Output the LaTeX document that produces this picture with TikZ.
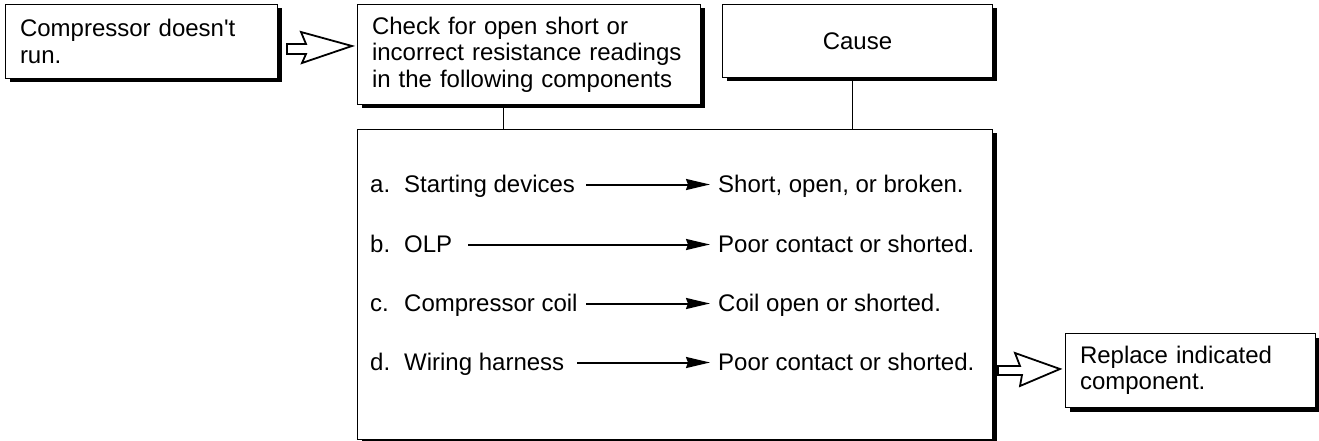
\documentclass[tikz,border=0pt]{standalone}
\usepackage{fontspec}
\setmainfont{Liberation Sans}[Ligatures=TeXOff]
\usetikzlibrary{arrows.meta,shadows,calc}
\begin{document}
\begin{tikzpicture}[x=1pt,y=-1pt,
  txt/.style={font=\fontsize{24}{26.5}\selectfont},
  box/.style={txt, draw=black, line width=1pt, fill=white, rectangle,
    inner xsep=14.5pt, inner ysep=0pt, align=left, anchor=north west,
    drop shadow={shadow xshift=4pt, shadow yshift=-4pt, opacity=1, fill=black}},
  lbl/.style={txt, inner sep=0pt},
  thinline/.style={line width=1pt},
  arr/.style={line width=2pt, -{Stealth[length=24pt,width=11pt,inset=2pt]}},
  openarr/.style={draw=black, fill=white, line width=1.8pt, line join=miter}
]
\useasboundingbox (0,0) rectangle (1319,441);

% boxes
\node[box, minimum width=272, minimum height=74, text width=243pt] (b1) at (5,4)
  {Compressor doesn't\\run.};
\node[box, minimum width=343, minimum height=100, text width=314pt] (b2) at (357,4)
  {Check for open short or\\incorrect resistance readings\\in the following components};
\node[box, align=center, minimum width=270, minimum height=73, text width=241pt] (cause) at (722,4)
  {Cause};
\node[box, minimum width=635, minimum height=310] (big) at (357,129) {};
\node[box, minimum width=250, minimum height=74, text width=221pt] (b4) at (1065,333)
  {Replace indicated\\component.};

% connecting lines
\draw[thinline] ([xshift=146pt]b2.south west) coordinate (t1) -- (t1 |- big.north);
\draw[thinline] ([xshift=130pt]cause.south west) coordinate (t2) -- (t2 |- big.north);

% open arrows
\draw[openarr] (287,44) -- (306,44) -- (301,32) -- (352,46) -- (302,63) -- (306,54) -- (287,54) -- cycle;
\draw[openarr] (998,366) -- (1020,366) -- (1015,353) -- (1060,369) -- (1020,386) -- (1022,375) -- (998,375) -- cycle;

% list inside big box
\node[lbl, anchor=base west] (la) at (370,192) {\makebox[34pt][l]{a.}Starting devices};
\node[lbl, anchor=base west] (ra) at (718,192) {Short, open, or broken.};
\node[lbl, anchor=base west] (lb) at (370,252) {\makebox[34pt][l]{b.}OLP};
\node[lbl, anchor=base west] (rb) at (718,252) {Poor contact or shorted.};
\node[lbl, anchor=base west] (lc) at (370,311) {\makebox[34pt][l]{c.}Compressor coil};
\node[lbl, anchor=base west] (rc) at (718,311) {Coil open or shorted.};
\node[lbl, anchor=base west] (ld) at (370,370) {\makebox[34pt][l]{d.}Wiring harness};
\node[lbl, anchor=base west] (rd) at (718,370) {Poor contact or shorted.};

\draw[arr] ($(la.base west)+(216,-7.5)$) -- ($(ra.base west)+(-8,-7.5)$);
\draw[arr] ($(lb.base west)+(98,-7.5)$) -- ($(rb.base west)+(-8,-7.5)$);
\draw[arr] ($(lc.base west)+(216,-7.5)$) -- ($(rc.base west)+(-8,-7.5)$);
\draw[arr] ($(ld.base west)+(207,-7.5)$) -- ($(rd.base west)+(-8,-7.5)$);
\end{tikzpicture}
\end{document}
